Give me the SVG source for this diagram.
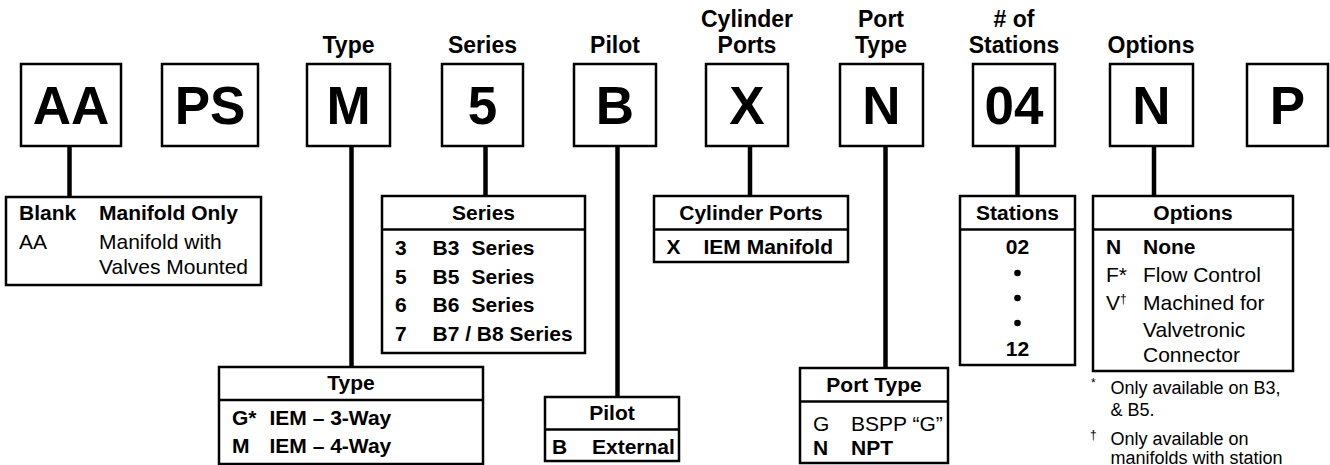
<svg xmlns="http://www.w3.org/2000/svg" width="1330" height="465" viewBox="0 0 1330 465">
<style>
text{font-family:"Liberation Sans",Arial,sans-serif;fill:#000}
.box{fill:#fff;stroke:#000;stroke-width:2.5}
.div{stroke:#000;stroke-width:2.5}
.conn{stroke:#000;stroke-width:4.5;fill:none}
.big{font-size:53px;font-weight:bold;text-anchor:middle}
.lab{font-size:23px;font-weight:bold;text-anchor:middle}
.hd{font-size:21px;font-weight:bold;text-anchor:middle}
.b{font-size:21px;font-weight:bold}
.r{font-size:21px}
.fn{font-size:18px}
.sup{font-size:12px}
</style>
<rect width="1330" height="465" fill="#fff"/>
<g id="connectors">
<line class="conn" x1="69.5" y1="146" x2="69.5" y2="197"/>
<line class="conn" x1="351.5" y1="146" x2="351.5" y2="367"/>
<line class="conn" x1="485.5" y1="146" x2="485.5" y2="196"/>
<line class="conn" x1="617.5" y1="146" x2="617.5" y2="397"/>
<line class="conn" x1="750" y1="146" x2="750" y2="196"/>
<line class="conn" x1="885.5" y1="146" x2="885.5" y2="368"/>
<line class="conn" x1="1017.5" y1="146" x2="1017.5" y2="196"/>
<line class="conn" x1="1154" y1="146" x2="1154" y2="196"/>
</g>
<g id="code-AA"><rect class="box" x="21" y="64" width="100" height="82"/><text class="big" x="71" y="124">AA</text></g>
<g id="code-PS"><rect class="box" x="162" y="64" width="96" height="82"/><text class="big" x="210" y="124">PS</text></g>
<g id="code-M"><text class="lab" x="348.5" y="53">Type</text><rect class="box" x="307" y="64" width="83" height="82"/><text class="big" x="348.5" y="124">M</text></g>
<g id="code-5"><text class="lab" x="482.5" y="53">Series</text><rect class="box" x="442" y="64" width="81" height="82"/><text class="big" x="482.5" y="124">5</text></g>
<g id="code-B"><text class="lab" x="615" y="53">Pilot</text><rect class="box" x="574" y="64" width="82" height="82"/><text class="big" x="615" y="124">B</text></g>
<g id="code-X"><text class="lab" x="747" y="27">Cylinder</text><text class="lab" x="747" y="53">Ports</text><rect class="box" x="706" y="64" width="82" height="82"/><text class="big" x="747" y="124">X</text></g>
<g id="code-N1"><text class="lab" x="881" y="27">Port</text><text class="lab" x="881" y="53">Type</text><rect class="box" x="840" y="64" width="83" height="82"/><text class="big" x="881.5" y="124">N</text></g>
<g id="code-04"><text class="lab" x="1014" y="27"># of</text><text class="lab" x="1014" y="53">Stations</text><rect class="box" x="973" y="64" width="82" height="82"/><text class="big" x="1014" y="124">04</text></g>
<g id="code-N2"><text class="lab" x="1151" y="53">Options</text><rect class="box" x="1110" y="64" width="83" height="82"/><text class="big" x="1151.5" y="124">N</text></g>
<g id="code-P"><rect class="box" x="1247" y="64" width="81" height="82"/><text class="big" x="1287.5" y="124">P</text></g>

<g id="table-blank">
<rect class="box" x="6" y="197" width="255" height="88"/>
<text class="b" x="19" y="220">Blank</text><text class="b" x="99" y="220">Manifold Only</text>
<text class="r" x="19" y="249">AA</text><text class="r" x="99" y="249">Manifold with</text>
<text class="r" x="99" y="274">Valves Mounted</text>
</g>
<g id="table-series">
<rect class="box" x="382" y="196" width="203" height="157"/><line class="div" x1="382" y1="229.5" x2="585" y2="229.5"/>
<text class="hd" x="483.5" y="219.5">Series</text>
<text class="b" x="395" y="255">3</text><text class="b" x="432.5" y="255">B3<tspan x="471.5">Series</tspan></text>
<text class="b" x="395" y="283.5">5</text><text class="b" x="432.5" y="283.5">B5<tspan x="471.5">Series</tspan></text>
<text class="b" x="395" y="312">6</text><text class="b" x="432.5" y="312">B6<tspan x="471.5">Series</tspan></text>
<text class="b" x="395" y="340.5">7</text><text class="b" x="432.5" y="340.5">B7 / B8 Series</text>
</g>
<g id="table-cylinder">
<rect class="box" x="654" y="196" width="194" height="66"/><line class="div" x1="654" y1="229.5" x2="848" y2="229.5"/>
<text class="hd" x="751" y="219.5">Cylinder Ports</text>
<text class="b" x="666.5" y="254">X</text><text class="b" x="703.5" y="254">IEM Manifold</text>
</g>
<g id="table-stations">
<rect class="box" x="960" y="196" width="115" height="169"/><line class="div" x1="960" y1="229.5" x2="1075" y2="229.5"/>
<text class="hd" x="1017.5" y="219.5">Stations</text>
<text class="hd" x="1017.5" y="254">02</text>
<circle cx="1017.5" cy="273" r="3.3"/><circle cx="1017.5" cy="298" r="3.3"/><circle cx="1017.5" cy="323" r="3.3"/>
<text class="hd" x="1017.5" y="356">12</text>
</g>
<g id="table-options">
<rect class="box" x="1093" y="196" width="200" height="175"/><line class="div" x1="1093" y1="229.5" x2="1293" y2="229.5"/>
<text class="hd" x="1193" y="219.5">Options</text>
<text class="b" x="1106" y="254">N</text><text class="b" x="1143" y="254">None</text>
<text class="r" x="1106" y="281.5">F*</text><text class="r" x="1143" y="281.5">Flow Control</text>
<text class="r" x="1106" y="309.5">V<tspan class="sup" dy="-7">†</tspan></text><text class="r" x="1143" y="309.5">Machined for</text>
<text class="r" x="1143" y="336.5">Valvetronic</text>
<text class="r" x="1143" y="361.5">Connector</text>
</g>
<g id="footnotes">
<text class="sup" x="1091" y="387">*</text>
<text class="fn" x="1110.5" y="393.5">Only available on B3,</text>
<text class="fn" x="1110.5" y="416">&amp; B5.</text>
<text class="sup" x="1090" y="439">†</text>
<text class="fn" x="1110.5" y="445">Only available on</text>
<text class="fn" x="1110.5" y="463.5">manifolds with station</text>
</g>
<g id="table-type">
<rect class="box" x="219" y="367" width="264" height="97"/><line class="div" x1="219" y1="400" x2="483" y2="400"/>
<text class="hd" x="351" y="390">Type</text>
<text class="b" x="232" y="425">G*</text><text class="b" x="269.5" y="425">IEM – 3-Way</text>
<text class="b" x="232" y="452.5">M</text><text class="b" x="269.5" y="452.5">IEM – 4-Way</text>
</g>
<g id="table-pilot">
<rect class="box" x="545" y="397" width="134" height="64"/><line class="div" x1="545" y1="429.5" x2="679" y2="429.5"/>
<text class="hd" x="612" y="419.5">Pilot</text>
<text class="b" x="552" y="454">B</text><text class="b" x="592" y="454">External</text>
</g>
<g id="table-porttype">
<rect class="box" x="800" y="368" width="148" height="95"/><line class="div" x1="800" y1="401.5" x2="948" y2="401.5"/>
<text class="hd" x="874" y="391.5">Port Type</text>
<text class="r" x="813" y="430.5">G</text><text class="r" x="851" y="430.5">BSPP “G”</text>
<text class="b" x="813" y="455">N</text><text class="b" x="851" y="455">NPT</text>
</g>
</svg>
